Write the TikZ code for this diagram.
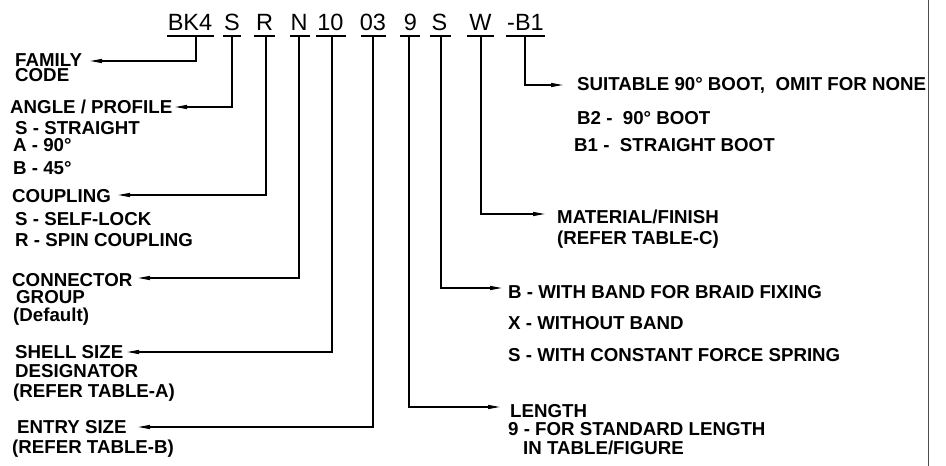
\documentclass[tikz,border=0pt]{standalone}
\usepackage{fontspec}
\setmainfont{Liberation Sans}
\usetikzlibrary{arrows.meta}
\begin{document}
\begin{tikzpicture}[x=1pt,y=-1pt,
  lab/.style={anchor=base west,inner sep=0pt,font=\fontsize{18.7}{20}\selectfont\bfseries},
  codetxt/.style={anchor=base,inner sep=0pt,font=\fontsize{23.5}{26}\selectfont},
  ln/.style={line width=1.2pt},
  arr/.style={line width=1.2pt,-{Triangle[length=12pt,width=4pt]}}]
\useasboundingbox (0,0) rectangle (946,466);
% page edge line
\draw[gray!60!black,line width=0.9pt] (928,0) -- (928,466);
% code letters
\node[codetxt] (cBK) at (190,30) {BK4};
\node[codetxt] (cS1) at (232,30) {S};
\node[codetxt] (cR) at (264.5,30) {R};
\node[codetxt] (cN) at (299,30) {N};
\node[codetxt] (c10) at (330.5,30) {10};
\node[codetxt] (c03) at (373,30) {03};
\node[codetxt] (c9) at (410.5,30) {9};
\node[codetxt] (cS2) at (439.5,30) {S};
\node[codetxt] (cW) at (480.5,30) {W};
\node[codetxt] (cB1) at (525.5,30) {-B1};
% underlines
\draw[ln] (167,36) -- (214,36);
\draw[ln] (223,36) -- (241,36);
\draw[ln] (254,36) -- (275,36);
\draw[ln] (290,36) -- (310,36);
\draw[ln] (316,36) -- (346,36);
\draw[ln] (361,36) -- (386,36);
\draw[ln] (400,36) -- (420,36);
\draw[ln] (430,36) -- (451,36);
\draw[ln] (467,36) -- (494,36);
\draw[ln] (506,36) -- (545,36);
% junction coordinates
\coordinate (uBK) at (196,36);
\coordinate (uS1) at (232,36);
\coordinate (uR) at (266,36);
\coordinate (uN) at (299,36);
\coordinate (u10) at (332,36);
\coordinate (u03) at (373,36);
\coordinate (u9) at (409,36);
\coordinate (uS2) at (441,36);
\coordinate (uW) at (481,36);
\coordinate (uB1) at (525,36);
% left labels
\node[lab,anchor=north west,align=left,font=\fontsize{18.7}{15.6}\selectfont\bfseries] (fam) at (15,53) {FAMILY\\CODE};
\node[lab] (ang) at (10,113.5) {ANGLE / PROFILE};
\node[lab] at (15,134.5) {S - STRAIGHT};
\node[lab] at (13,151.5) {A - 90°};
\node[lab] at (13,174.5) {B - 45°};
\node[lab] (coup) at (12,202.5) {COUPLING};
\node[lab] at (15,225.5) {S - SELF-LOCK};
\node[lab] at (15,246.5) {R - SPIN COUPLING};
\node[lab] (conn) at (12,286.5) {CONNECTOR};
\node[lab] at (16,303.5) {GROUP};
\node[lab] at (13,321.5) {(Default)};
\node[lab] (shell) at (15,358.5) {SHELL SIZE};
\node[lab] at (15,377.5) {DESIGNATOR};
\node[lab] at (13,397.5) {(REFER TABLE-A)};
\node[lab] (entry) at (17,433.5) {ENTRY SIZE};
\node[lab] at (12,453.5) {(REFER TABLE-B)};
% right labels
\node[lab] (suit) at (577,90.5) {SUITABLE 90° BOOT,\ \ OMIT FOR NONE};
\node[lab] at (577,124.5) {B2 -\ \ 90° BOOT};
\node[lab] at (574,151.5) {B1 -\ \ STRAIGHT BOOT};
\node[lab] (mat) at (557,223.5) {MATERIAL/FINISH};
\node[lab] at (557,244.5) {(REFER TABLE-C)};
\node[lab] (band) at (508,298.5) {B - WITH BAND FOR BRAID FIXING};
\node[lab] at (508,329.5) {X - WITHOUT BAND};
\node[lab] at (508,361.5) {S - WITH CONSTANT FORCE SPRING};
\node[lab] (len) at (510,417.5) {LENGTH};
\node[lab] at (508,435.5) {9 - FOR STANDARD LENGTH};
\node[lab] at (523,454.5) {IN TABLE/FIGURE};
% arrow tips
\coordinate (aFam) at (90,61);
\coordinate (aAng) at (175,107);
\coordinate (aCoup) at (118,195);
\coordinate (aConn) at (138,278);
\coordinate (aShell) at (127,352);
\coordinate (aEntry) at (138,427);
\coordinate (aLen) at (500,407);
\coordinate (aBand) at (502,288);
\coordinate (aMat) at (545,214);
\coordinate (aSuit) at (563,85);
% connectors
\draw[arr] (uBK) |- (aFam);
\draw[arr] (uS1) |- (aAng);
\draw[arr] (uR) |- (aCoup);
\draw[arr] (uN) |- (aConn);
\draw[arr] (u10) |- (aShell);
\draw[arr] (u03) |- (aEntry);
\draw[arr] (u9) |- (aLen);
\draw[arr] (uS2) |- (aBand);
\draw[arr] (uW) |- (aMat);
\draw[arr] (uB1) |- (aSuit);
\end{tikzpicture}
\end{document}
